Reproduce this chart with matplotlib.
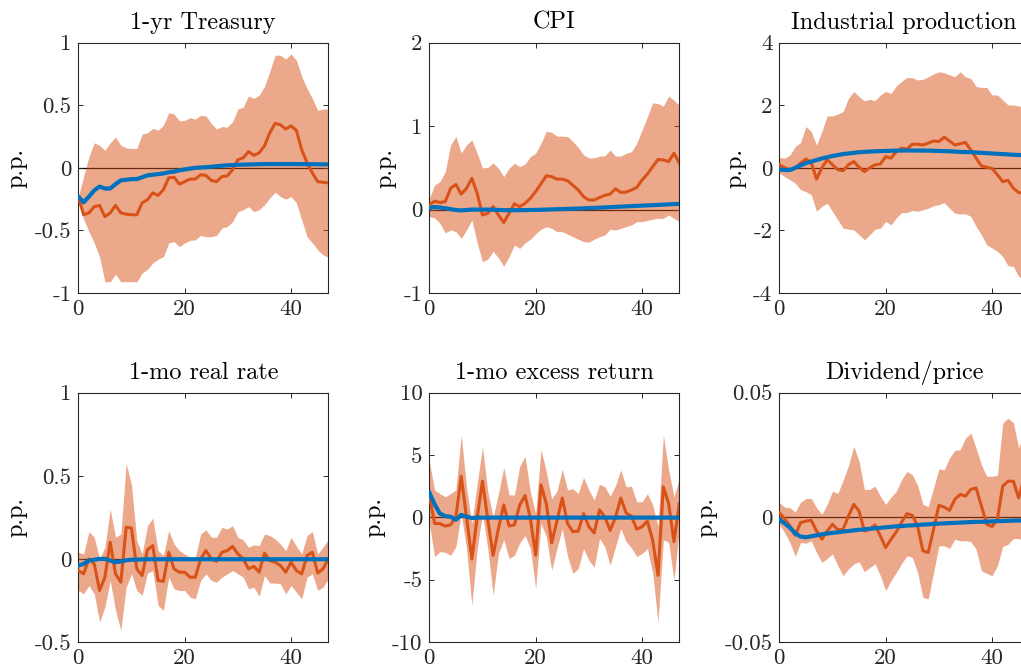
import numpy as np
import matplotlib
matplotlib.use('Agg')
import matplotlib.pyplot as plt

plt.rcParams['font.family'] = 'serif'
plt.rcParams['font.serif'] = ['cmr10', 'DejaVu Serif']
plt.rcParams['axes.unicode_minus'] = False
plt.rcParams['mathtext.fontset'] = 'cm'

ORANGE = '#D95319'
BLUE = '#0072BD'
AXCOL = '#262626'

horizon = np.arange(48)

# ---- 1-yr Treasury
tsy_mid = [-0.23, -0.375, -0.36, -0.31, -0.30, -0.39, -0.36, -0.30, -0.36, -0.37, -0.375, -0.375,
           -0.28, -0.255, -0.20, -0.22, -0.175, -0.08, -0.075, -0.13, -0.11, -0.09, -0.09, -0.055,
           -0.06, -0.10, -0.11, -0.07, -0.065, -0.015, 0.065, 0.08, 0.13, 0.10, 0.12, 0.175,
           0.28, 0.355, 0.345, 0.31, 0.335, 0.30, 0.145, 0.04, -0.04, -0.11, -0.115, -0.12]
tsy_hi = [-0.23, -0.07, 0.09, 0.20, 0.18, 0.14, 0.20, 0.245, 0.18, 0.16, 0.155, 0.155,
          0.27, 0.28, 0.315, 0.30, 0.34, 0.44, 0.43, 0.375, 0.38, 0.40, 0.39, 0.42,
          0.415, 0.355, 0.31, 0.33, 0.325, 0.37, 0.47, 0.485, 0.575, 0.555, 0.58, 0.65,
          0.77, 0.90, 0.90, 0.87, 0.91, 0.86, 0.73, 0.635, 0.555, 0.46, 0.47, 0.47]
tsy_lo = [-0.23, -0.41, -0.51, -0.60, -0.71, -0.91, -0.91, -0.85, -0.91, -0.91, -0.91, -0.91,
          -0.84, -0.81, -0.76, -0.73, -0.71, -0.60, -0.59, -0.63, -0.60, -0.58, -0.575, -0.54,
          -0.55, -0.55, -0.54, -0.48, -0.47, -0.43, -0.35, -0.335, -0.31, -0.35, -0.335, -0.295,
          -0.24, -0.195, -0.23, -0.25, -0.23, -0.28, -0.415, -0.55, -0.60, -0.655, -0.695, -0.715]
tsy_var = [-0.23, -0.275, -0.23, -0.18, -0.15, -0.165, -0.165, -0.13, -0.10, -0.095, -0.09, -0.09,
           -0.075, -0.06, -0.055, -0.05, -0.045, -0.035, -0.03, -0.02, -0.013, -0.006, 0.0, 0.003,
           0.005, 0.009, 0.013, 0.017, 0.02, 0.022, 0.025, 0.026, 0.027, 0.028, 0.029, 0.03,
           0.03, 0.03, 0.03, 0.03, 0.03, 0.03, 0.03, 0.029, 0.029, 0.028, 0.028, 0.028]

# ---- CPI
cpi_mid = [0.055, 0.10, 0.085, 0.095, 0.255, 0.30, 0.185, 0.255, 0.375, 0.195, -0.065, -0.045,
           0.035, -0.065, -0.155, -0.045, 0.07, 0.035, 0.075, 0.135, 0.215, 0.31, 0.405, 0.395,
           0.365, 0.365, 0.345, 0.29, 0.235, 0.155, 0.115, 0.115, 0.145, 0.17, 0.185, 0.25,
           0.205, 0.21, 0.235, 0.265, 0.355, 0.425, 0.515, 0.60, 0.595, 0.575, 0.675, 0.555]
cpi_hi = [0.135, 0.295, 0.335, 0.455, 0.775, 0.875, 0.68, 0.775, 0.835, 0.675, 0.50, 0.505,
          0.56, 0.495, 0.395, 0.495, 0.555, 0.515, 0.545, 0.635, 0.675, 0.795, 0.94, 0.925,
          0.88, 0.88, 0.875, 0.815, 0.745, 0.655, 0.62, 0.62, 0.64, 0.645, 0.715, 0.64,
          0.64, 0.675, 0.695, 0.795, 0.955, 1.11, 1.28, 1.27, 1.24, 1.36, 1.31, 1.25]
cpi_lo = [-0.085, -0.10, -0.165, -0.28, -0.245, -0.265, -0.345, -0.245, -0.125, -0.40, -0.625, -0.595,
          -0.50, -0.58, -0.68, -0.565, -0.425, -0.465, -0.40, -0.355, -0.29, -0.235, -0.205, -0.225,
          -0.265, -0.265, -0.295, -0.325, -0.355, -0.385, -0.39, -0.355, -0.325, -0.305, -0.235, -0.245,
          -0.225, -0.205, -0.185, -0.145, -0.145, -0.13, -0.115, -0.105, -0.105, -0.065, -0.105, -0.145]
cpi_var = [0.02, 0.03, 0.025, 0.015, 0.005, -0.005, -0.01, -0.005, 0.0, 0.0, 0.0, 0.0,
           -0.002, -0.005, -0.007, -0.008, -0.008, -0.007, -0.006, -0.005, -0.004, -0.002, 0.0, 0.002,
           0.004, 0.006, 0.008, 0.01, 0.012, 0.015, 0.018, 0.02, 0.023, 0.026, 0.029, 0.032,
           0.035, 0.038, 0.041, 0.044, 0.047, 0.05, 0.053, 0.056, 0.059, 0.062, 0.065, 0.068]

# ---- Industrial production
ip_mid = [0.10, 0.0, -0.06, 0.0, 0.15, 0.28, 0.17, -0.36, 0.0, 0.26, 0.10, -0.06,
          -0.09, 0.10, 0.20, 0.02, -0.12, 0.0, 0.10, 0.12, 0.36, 0.31, 0.52, 0.63,
          0.60, 0.755, 0.755, 0.73, 0.79, 0.86, 0.84, 0.98, 0.86, 0.73, 0.77, 0.81,
          0.575, 0.31, 0.06, 0.02, -0.02, -0.22, -0.44, -0.40, -0.65, -0.79, -0.81, -0.85]
ip_hi = [0.33, 0.31, 0.41, 0.68, 0.81, 1.32, 1.16, 0.73, 1.16, 1.66, 1.66, 1.72,
         1.80, 2.22, 2.44, 2.28, 2.14, 2.19, 2.15, 2.33, 2.44, 2.38, 2.62, 2.76,
         2.89, 2.88, 2.81, 2.83, 2.91, 3.00, 3.07, 3.04, 2.97, 2.91, 3.07, 2.91,
         2.86, 2.60, 2.57, 2.57, 2.33, 2.33, 2.17, 2.01, 2.01, 1.98, 1.94, 1.90]
ip_lo = [-0.17, -0.28, -0.38, -0.49, -0.70, -0.76, -0.86, -1.39, -1.23, -1.13, -1.39, -1.66,
         -1.93, -1.96, -1.98, -2.14, -2.30, -2.14, -1.96, -1.93, -1.71, -1.82, -1.60, -1.43,
         -1.43, -1.36, -1.39, -1.34, -1.29, -1.21, -1.18, -1.11, -1.29, -1.45, -1.47, -1.47,
         -1.55, -1.87, -2.14, -2.46, -2.56, -2.67, -2.83, -3.13, -3.15, -3.47, -3.57, -3.68]
ip_var = [-0.05, -0.07, -0.07, 0.0, 0.08, 0.15, 0.20, 0.25, 0.30, 0.34, 0.38, 0.41,
          0.44, 0.46, 0.48, 0.50, 0.51, 0.52, 0.53, 0.535, 0.54, 0.545, 0.55, 0.553,
          0.555, 0.555, 0.553, 0.552, 0.55, 0.545, 0.54, 0.535, 0.53, 0.52, 0.51, 0.505,
          0.50, 0.49, 0.48, 0.47, 0.46, 0.45, 0.44, 0.43, 0.42, 0.41, 0.405, 0.40]

# ---- 1-mo real rate
rr_mid = [-0.07, -0.09, 0.0, -0.03, -0.19, -0.11, 0.10, -0.09, -0.14, 0.19, 0.185, -0.06,
          -0.10, 0.055, 0.08, -0.13, -0.135, 0.04, -0.06, -0.08, -0.08, -0.11, -0.11, 0.0,
          0.05, 0.0, -0.015, 0.04, 0.05, 0.075, 0.03, 0.0, -0.06, -0.045, -0.08, 0.035,
          -0.01, -0.02, -0.04, -0.08, -0.02, -0.07, -0.09, 0.02, 0.04, -0.085, -0.06, 0.0]
rr_hi = [0.04, 0.03, 0.165, 0.13, 0.0, 0.07, 0.30, 0.13, 0.15, 0.575, 0.445, 0.11,
         0.03, 0.20, 0.245, 0.05, 0.02, 0.17, 0.09, 0.05, 0.03, 0.01, 0.01, 0.15,
         0.175, 0.13, 0.13, 0.19, 0.18, 0.20, 0.13, 0.115, 0.07, 0.085, 0.08, 0.15,
         0.14, 0.12, 0.09, 0.05, 0.13, 0.075, 0.03, 0.14, 0.165, 0.03, 0.07, 0.115]
rr_lo = [-0.19, -0.21, -0.16, -0.21, -0.38, -0.29, -0.13, -0.31, -0.43, -0.17, -0.09, -0.19,
         -0.22, -0.085, -0.07, -0.28, -0.31, -0.11, -0.18, -0.19, -0.19, -0.23, -0.24, -0.13,
         -0.09, -0.13, -0.14, -0.11, -0.09, -0.07, -0.09, -0.11, -0.18, -0.17, -0.225, -0.10,
         -0.145, -0.145, -0.15, -0.21, -0.16, -0.20, -0.24, -0.11, -0.09, -0.19, -0.17, -0.12]
rr_var = [-0.04, -0.03, -0.01, -0.005, 0.0, 0.0, -0.01, -0.02, -0.015, -0.008, -0.005, -0.004,
          -0.003, -0.002, -0.002, -0.002, -0.002, -0.002, -0.002, -0.002, -0.002, -0.002, -0.002, -0.002,
          -0.002, -0.002, -0.002, -0.002, -0.002, -0.002, -0.002, -0.002, -0.002, -0.002, -0.002, -0.002,
          -0.002, -0.002, -0.002, -0.002, -0.002, -0.002, -0.002, -0.002, -0.002, -0.002, -0.002, -0.002]

# ---- 1-mo excess return
xr_mid = [1.8, -0.5, -0.5, -0.7, -0.6, 0.05, 3.3, 0.0, -3.35, 0.0, 2.9, -0.2,
          -3.05, -0.9, 1.0, -0.7, -0.6, 1.0, 1.75, -0.1, -3.05, 2.6, 1.1, -2.05,
          -0.3, 1.55, -0.5, -1.15, -1.1, 0.3, -0.75, -1.25, 0.6, 0.05, -1.05, 0.0,
          1.55, 0.35, 0.1, -0.95, -0.75, -0.3, -1.85, -4.65, 2.45, 1.1, -1.95, 1.1]
xr_hi = [4.45, 2.2, 1.9, 1.65, 1.9, 2.2, 6.6, 2.4, -0.5, 2.7, 5.65, 2.05,
         0.05, 1.9, 4.0, 1.8, 1.8, 4.1, 4.9, 2.05, 0.3, 5.45, 3.65, 1.5,
         2.1, 3.85, 2.2, 2.3, 1.9, 3.2, 2.2, 1.4, 2.65, 2.45, 1.7, 2.55,
         3.8, 2.45, 2.5, 1.25, 1.25, 1.9, 1.0, -0.75, 6.6, 3.8, 1.65, 3.1]
xr_lo = [-0.5, -3.15, -2.75, -2.8, -3.05, -2.35, 0.3, -2.5, -7.05, -2.5, 0.3, -2.5,
         -6.25, -2.9, -1.8, -3.3, -3.05, -2.05, -1.45, -2.5, -5.7, -0.5, -1.55, -4.25,
         -2.5, -0.9, -3.15, -4.5, -4.1, -2.5, -3.45, -4.0, -1.7, -2.35, -3.85, -2.35,
         -0.9, -1.95, -2.45, -3.15, -2.9, -2.5, -4.5, -8.4, -1.8, -2.0, -5.05, -1.0]
xr_var = [2.0, 1.05, 0.3, 0.1, 0.05, -0.2, 0.2, 0.05, -0.05, -0.02, -0.02, -0.02,
          -0.02, -0.02, -0.02, -0.02, -0.02, -0.02, -0.02, -0.02, -0.02, -0.02, -0.02, -0.02,
          -0.02, -0.02, -0.02, -0.02, -0.02, -0.02, -0.02, -0.02, -0.02, -0.02, -0.02, -0.02,
          -0.02, -0.02, -0.02, -0.02, -0.02, -0.02, -0.02, -0.02, -0.02, -0.02, -0.02, -0.02]

# ---- Dividend/price
dp_mid = [0.0019, -0.0005, -0.0035, -0.0072, -0.0021, -0.0015, -0.0012, -0.0055, -0.0088, -0.0055, -0.0028, -0.0050,
          -0.0048, 0.0005, 0.0052, 0.0025, -0.0055, -0.0048, -0.0030, -0.0075, -0.0121, -0.0088, -0.0058, -0.0019,
          0.0015, 0.0008, -0.0035, -0.0134, -0.0141, -0.0048, 0.0048, 0.0041, 0.0028, 0.0072, 0.0092, 0.0085,
          0.0112, 0.0118, 0.0045, -0.0028, -0.0037, -0.0008, 0.0125, 0.0145, 0.0145, 0.0078, 0.0155, 0.0120]
dp_hi = [0.0059, 0.0041, 0.0039, 0.0021, 0.0061, 0.0075, 0.0076, 0.0039, 0.0012, 0.0052, 0.0105, 0.0096,
         0.0149, 0.0207, 0.0285, 0.0225, 0.0112, 0.0112, 0.0125, 0.0085, 0.0052, 0.0081, 0.0105, 0.0152,
         0.0184, 0.0171, 0.0128, 0.0052, 0.0043, 0.0118, 0.0194, 0.0191, 0.0238, 0.0269, 0.0271, 0.0318,
         0.0338, 0.0278, 0.0211, 0.0165, 0.0165, 0.0168, 0.0378, 0.0398, 0.0380, 0.0278, 0.0340, 0.0310]
dp_lo = [-0.0028, -0.0061, -0.0101, -0.0157, -0.0101, -0.0104, -0.0094, -0.0141, -0.0181, -0.0165, -0.0147, -0.0194,
         -0.0234, -0.0207, -0.0187, -0.0178, -0.0218, -0.0201, -0.0187, -0.0234, -0.0294, -0.0254, -0.0221, -0.0185,
         -0.0154, -0.0161, -0.0221, -0.0321, -0.0327, -0.0221, -0.0114, -0.0114, -0.0125, -0.0088, -0.0094, -0.0094,
         -0.0097, -0.0128, -0.0214, -0.0225, -0.0234, -0.0194, -0.0117, -0.0108, -0.0085, -0.0085, -0.0094, -0.0070]
dp_var = [-0.0008, -0.0024, -0.0041, -0.0064, -0.0077, -0.0080, -0.0076, -0.0072, -0.0068, -0.0065, -0.0062, -0.0060,
          -0.0057, -0.0055, -0.0052, -0.0050, -0.0048, -0.0046, -0.0044, -0.0042, -0.0040, -0.0038, -0.0036, -0.0035,
          -0.0033, -0.0032, -0.0031, -0.0029, -0.0028, -0.0026, -0.0025, -0.0024, -0.0023, -0.0022, -0.0021, -0.0020,
          -0.0019, -0.0018, -0.0018, -0.0017, -0.0016, -0.0015, -0.0015, -0.0014, -0.0013, -0.0013, -0.0012, -0.0012]

titles = ['1-yr Treasury', 'CPI', 'Industrial production',
          '1-mo real rate', '1-mo excess return', 'Dividend/price']
y_limits = [(-1, 1), (-1, 2), (-4, 4), (-0.5, 1), (-10, 10), (-0.05, 0.05)]
y_ticks = [[-1, -0.5, 0, 0.5, 1], [-1, 0, 1, 2], [-4, -2, 0, 2, 4],
           [-0.5, 0, 0.5, 1], [-10, -5, 0, 5, 10], [-0.05, 0, 0.05]]
y_ticklabels = [['-1', '-0.5', '0', '0.5', '1'], ['-1', '0', '1', '2'], ['-4', '-2', '0', '2', '4'],
                ['-0.5', '0', '0.5', '1'], ['-10', '-5', '0', '5', '10'], ['-0.05', '0', '0.05']]
panels = [(tsy_mid, tsy_hi, tsy_lo, tsy_var), (cpi_mid, cpi_hi, cpi_lo, cpi_var),
          (ip_mid, ip_hi, ip_lo, ip_var), (rr_mid, rr_hi, rr_lo, rr_var),
          (xr_mid, xr_hi, xr_lo, xr_var), (dp_mid, dp_hi, dp_lo, dp_var)]


def draw_panel(ax, data, title, ylim, yticks, yticklabels):
    """ draws one impulse response: band, median and VAR response """
    mid, hi, lo, var = data
    ax.axhline(0, color='k', linewidth=0.9, zorder=1)
    ax.fill_between(horizon, lo, hi, color=ORANGE, alpha=0.5, linewidth=0, zorder=2)
    ax.plot(horizon, mid, color=ORANGE, linewidth=2.2, zorder=3)
    ax.plot(horizon, var, color=BLUE, linewidth=3.0, zorder=4)

    ax.set_xlim(0, 47)
    ax.set_ylim(*ylim)
    ax.set_xticks([0, 20, 40])
    ax.set_xticklabels(['0', '20', '40'])
    ax.set_yticks(yticks)
    ax.set_yticklabels(yticklabels)
    ax.tick_params(direction='in', length=3.5, width=0.7, colors=AXCOL,
                   labelsize=16.5, top=True, right=True, pad=5)
    for sp in ax.spines.values():
        sp.set_color(AXCOL)
        sp.set_linewidth(0.8)
    ax.set_title(title, fontsize=17.5, pad=10)
    ax.set_ylabel('p.p.', fontsize=17.5, labelpad=5)


W, H = 1021, 671
fig = plt.figure(figsize=(W / 100, H / 100), dpi=100)

col_left = [78.3, 429.3, 779.3]
row_top = [42.7, 392.7]
row_height = [250.3, 249.3]

for i in range(6):
    r, c = divmod(i, 3)
    left = col_left[c] / W
    bottom = 1 - (row_top[r] + row_height[r]) / H
    ax = fig.add_axes([left, bottom, 250 / W, row_height[r] / H])
    draw_panel(ax, panels[i], titles[i], y_limits[i], y_ticks[i], y_ticklabels[i])

fig.savefig('out.png', dpi=100)
